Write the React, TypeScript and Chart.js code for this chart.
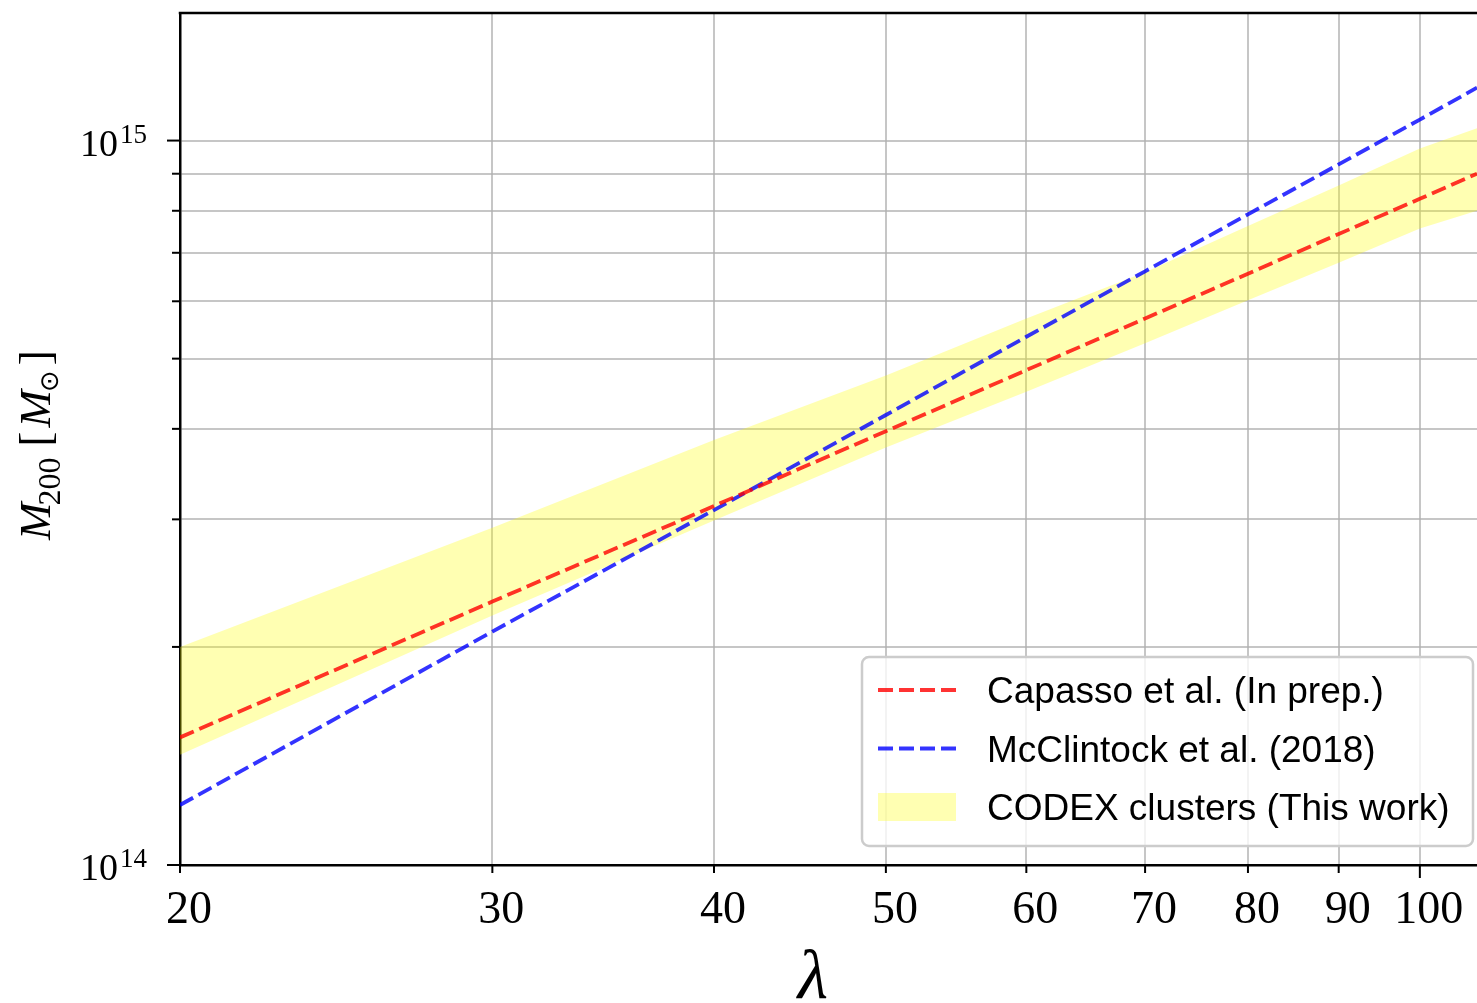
import React, { useEffect, useRef } from 'react';
import { Chart, registerables } from 'chart.js';

Chart.register(...registerables);

// Richness values where each relation is sampled
const lambdaValues = [20, 30, 40, 50, 60, 70, 80, 90, 100, 107.7];

// M200 [M_sun] for each relation
const capassoMass = [1.5e14, 2.31e14, 3.13e14, 3.97e14, 4.82e14, 5.68e14, 6.55e14, 7.43e14, 8.31e14, 9.0e14];
const mcclintockMass = [1.21e14, 2.1e14, 3.09e14, 4.18e14, 5.36e14, 6.6e14, 7.91e14, 9.27e14, 1.069e15, 1.183e15];

// CODEX uncertainty band edges
const codexUpper = [2.0e14, 2.92e14, 3.86e14, 4.74e14, 5.68e14, 6.58e14, 7.62e14, 8.67e14, 9.75e14, 1.04e15];
const codexLower = [1.42e14, 2.21e14, 2.99e14, 3.77e14, 4.5e14, 5.25e14, 6.02e14, 6.78e14, 7.56e14, 8.0e14];

// Tick values
const xTickValues = [20, 30, 40, 50, 60, 70, 80, 90, 100];
const yTickValues = [1e14, 2e14, 3e14, 4e14, 5e14, 6e14, 7e14, 8e14, 9e14, 1e15];

const seriesLabels = ['Capasso et al. (In prep.)', 'McClintock et al. (2018)', 'CODEX clusters (This work)'];

const RED = 'rgba(255,0,0,0.8)';
const BLUE = 'rgba(0,0,255,0.8)';
const YELLOW = 'rgba(255,255,0,0.3)';
const GRID = 'rgba(176,176,176,0.72)';
const DASH = [15, 6];
const LINE_WIDTH = 3.8;

const toPoints = (ys: number[]) => lambdaValues.map((x, i) => ({ x, y: ys[i] }));
const isDecade = (v: number) => Math.abs(Math.log10(v) - Math.round(Math.log10(v))) < 1e-9;

const decorations = {
  id: 'decorations',
  afterDraw(chart: any) {
    const { ctx, chartArea, scales } = chart;
    const xs = scales.x;
    const ys = scales.y;
    ctx.save();

    // top spine
    ctx.strokeStyle = '#000';
    ctx.lineWidth = 2.5;
    ctx.setLineDash([]);
    ctx.beginPath();
    ctx.moveTo(chartArea.left - 1.25, chartArea.top);
    ctx.lineTo(chartArea.right, chartArea.top);
    ctx.stroke();

    // outward tick marks: long on decades, short otherwise
    ctx.lineWidth = 2;
    for (const v of xTickValues) {
      const px = xs.getPixelForValue(v);
      const len = isDecade(v) ? 13 : 8;
      ctx.beginPath();
      ctx.moveTo(px, chartArea.bottom);
      ctx.lineTo(px, chartArea.bottom + len);
      ctx.stroke();
    }
    for (const v of yTickValues) {
      const py = ys.getPixelForValue(v);
      const len = isDecade(v) ? 13 : 8;
      ctx.beginPath();
      ctx.moveTo(chartArea.left - len, py);
      ctx.lineTo(chartArea.left, py);
      ctx.stroke();
    }

    // y decade labels as 10^n
    ctx.fillStyle = '#000';
    ctx.textBaseline = 'alphabetic';
    for (const v of yTickValues) {
      if (!isDecade(v)) continue;
      const py = ys.getPixelForValue(v);
      const exp = String(Math.round(Math.log10(v)));
      ctx.font = '38px "Liberation Serif"';
      ctx.textAlign = 'right';
      ctx.fillText('10', chartArea.left - 62, py + 15);
      ctx.font = '27px "Liberation Serif"';
      ctx.textAlign = 'left';
      ctx.fillText(exp, chartArea.left - 60, py + 2);
    }

    // x axis title
    ctx.font = 'italic 70px "Liberation Serif"';
    ctx.textAlign = 'center';
    ctx.fillText('λ', 813, 998);

    // y axis title: M_200 [M_⊙]
    ctx.save();
    ctx.translate(50, 540);
    ctx.rotate(-Math.PI / 2);
    ctx.textAlign = 'left';
    let cx = 0;
    ctx.font = 'italic 45px "Liberation Serif"';
    ctx.fillText('M', cx, 0);
    cx += ctx.measureText('M').width;
    ctx.font = '32px "Liberation Serif"';
    ctx.fillText('200', cx - 3, 10);
    cx += ctx.measureText('200').width + 8;
    ctx.font = '45px "Liberation Serif"';
    ctx.fillText('[', cx, 0);
    cx += ctx.measureText('[').width + 4;
    ctx.font = 'italic 45px "Liberation Serif"';
    ctx.fillText('M', cx, 0);
    cx += ctx.measureText('M').width;
    ctx.font = '26px "DejaVu Sans"';
    ctx.fillText('⊙', cx - 2, 8);
    cx += ctx.measureText('⊙').width + 3;
    ctx.font = '45px "Liberation Serif"';
    ctx.fillText(']', cx, 0);
    ctx.restore();

    // legend
    const bx = 862, by = 657, bw = 611, bh = 189, r = 7;
    ctx.beginPath();
    ctx.moveTo(bx + r, by);
    ctx.arcTo(bx + bw, by, bx + bw, by + bh, r);
    ctx.arcTo(bx + bw, by + bh, bx, by + bh, r);
    ctx.arcTo(bx, by + bh, bx, by, r);
    ctx.arcTo(bx, by, bx + bw, by, r);
    ctx.closePath();
    ctx.fillStyle = 'rgba(255,255,255,0.8)';
    ctx.fill();
    ctx.strokeStyle = '#cccccc';
    ctx.lineWidth = 2.5;
    ctx.stroke();

    const rowY = [690, 748.5, 807];
    const hx0 = 878, hx1 = 956;
    const datasets = chart.data.datasets;
    for (let i = 0; i < 3; i++) {
      const ds = datasets[i];
      const yc = rowY[i];
      if (i < 2) {
        ctx.strokeStyle = ds.borderColor;
        ctx.lineWidth = LINE_WIDTH;
        ctx.setLineDash([15, 6]);
        ctx.beginPath();
        ctx.moveTo(hx0, yc);
        ctx.lineTo(hx1, yc);
        ctx.stroke();
        ctx.setLineDash([]);
      } else {
        ctx.fillStyle = ds.backgroundColor;
        ctx.fillRect(hx0, yc - 14, hx1 - hx0, 28);
      }
      ctx.fillStyle = '#000';
      ctx.font = '37px "Liberation Sans"';
      ctx.textAlign = 'left';
      ctx.textBaseline = 'alphabetic';
      ctx.fillText(ds.label, 987, yc + 13);
    }

    ctx.restore();
  },
};

export default function App() {
  const canvasRef = useRef<HTMLCanvasElement | null>(null);

  useEffect(() => {
    const canvas = canvasRef.current;
    if (!canvas) return;
    const chart = new Chart(canvas, {
      type: 'line',
      data: {
        datasets: [
          {
            label: seriesLabels[0],
            data: toPoints(capassoMass),
            borderColor: RED,
            borderWidth: LINE_WIDTH,
            borderDash: DASH,
            pointRadius: 0,
            fill: false,
            order: 0,
          },
          {
            label: seriesLabels[1],
            data: toPoints(mcclintockMass),
            borderColor: BLUE,
            borderWidth: LINE_WIDTH,
            borderDash: DASH,
            pointRadius: 0,
            fill: false,
            order: 0,
          },
          {
            label: seriesLabels[2],
            data: toPoints(codexUpper),
            borderColor: 'rgba(0,0,0,0)',
            borderWidth: 0,
            backgroundColor: YELLOW,
            pointRadius: 0,
            fill: '+1',
            order: 1,
          },
          {
            label: 'codex-lower',
            data: toPoints(codexLower),
            borderColor: 'rgba(0,0,0,0)',
            borderWidth: 0,
            pointRadius: 0,
            fill: false,
            order: 2,
          },
        ],
      } as any,
      options: {
        animation: false,
        responsive: false,
        layout: { padding: { top: 13, right: 0, bottom: 0, left: 0 } },
        plugins: {
          legend: { display: false },
          tooltip: { enabled: false },
        },
        scales: {
          x: {
            type: 'logarithmic',
            min: 20,
            max: 107.7,
            afterBuildTicks: (s: any) => {
              s.ticks = xTickValues.map((value) => ({ value }));
            },
            afterFit: (s: any) => {
              s.height = 138;
            },
            ticks: {
              callback: (v: any) => String(v),
              font: { family: 'Liberation Serif', size: 46 },
              color: '#000',
              padding: 18,
              maxRotation: 0,
              autoSkip: false,
              labelOffset: 9,
            },
            grid: { color: GRID, lineWidth: 2, drawTicks: false },
            border: { color: '#000', width: 2.5 },
          },
          y: {
            type: 'logarithmic',
            min: 1e14,
            max: 1.5e15,
            afterBuildTicks: (s: any) => {
              s.ticks = yTickValues.map((value) => ({ value }));
            },
            afterFit: (s: any) => {
              s.width = 180;
            },
            ticks: { display: false },
            grid: { color: GRID, lineWidth: 2, drawTicks: false },
            border: { color: '#000', width: 2.5 },
          },
        },
      } as any,
      plugins: [decorations],
    });
    return () => chart.destroy();
  }, []);

  return (
    <div style={{ position: 'absolute', left: 0, top: 0, width: 1477, height: 1003, background: '#fff' }}>
      <canvas ref={canvasRef} width={1477} height={1003} style={{ display: 'block' }} />
    </div>
  );
}
